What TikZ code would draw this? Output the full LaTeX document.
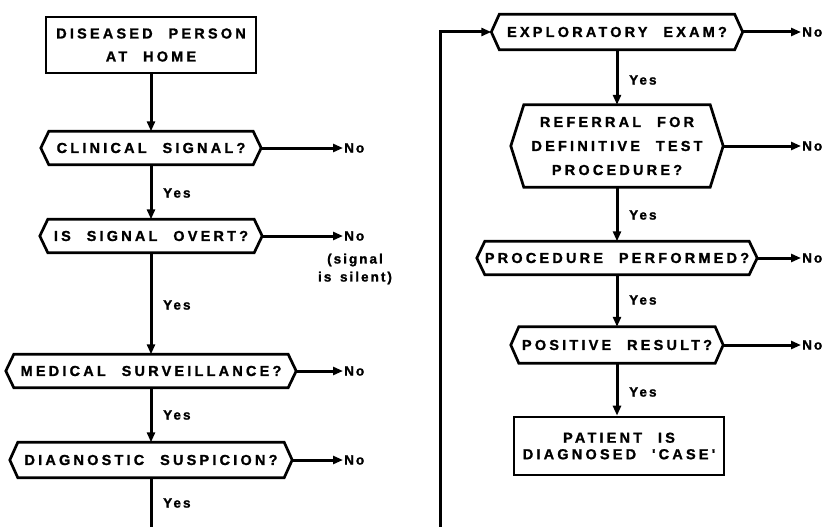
\documentclass[tikz,border=0pt]{standalone}
\usepackage{fontspec}
\setmainfont{Liberation Sans}
\newfontfamily\lblfont{Liberation Sans}[LetterSpace=22, WordSpace=2.2, FakeBold=1.2]
\newfontfamily\smfont{Liberation Sans}[LetterSpace=15, WordSpace=1.5, FakeBold=1.4]
\usetikzlibrary{arrows.meta,calc}
\newcommand\hexa[2]{\draw[outl] ($(#1.north west)+(#2,0)$) -- ($(#1.north east)+(-#2,0)$) -- (#1.east) -- ($(#1.south east)+(-#2,0)$) -- ($(#1.south west)+(#2,0)$) -- (#1.west) -- cycle;}
\tikzset{
  outl/.style={line width=2.7pt, line join=miter},
  txt/.style={font=\lblfont\bfseries\fontsize{14.5}{23}\selectfont, align=center, inner sep=0pt},
  hexnode/.style={txt, shape=rectangle, minimum height=33pt},
  boxnode/.style={txt, draw, line width=2.7pt, shape=rectangle},
  conn/.style={line width=3pt, -{Triangle[length=10pt,width=8pt]}},
  plain/.style={line width=3pt},
  small/.style={font=\smfont\bfseries\fontsize{13.5}{18}\selectfont, inner sep=0pt, align=center},
}
\begin{document}
\begin{tikzpicture}[x=1pt,y=-1pt]
\useasboundingbox (0,0) rectangle (827,527);
% left column
\node[boxnode, minimum width=210pt, minimum height=56pt] (home) at (151,45) {DISEASED PERSON\\AT HOME};
\node[hexnode, minimum width=220pt] (cs) at (151,148) {CLINICAL SIGNAL?};
\node[hexnode, minimum width=222pt] (iso) at (151,236) {IS SIGNAL OVERT?};
\node[hexnode, minimum width=290pt] (med) at (151,371) {MEDICAL SURVEILLANCE?};
\node[hexnode, minimum width=282pt, minimum height=35pt] (diag) at (151,460) {DIAGNOSTIC SUSPICION?};
\hexa{cs}{8}
\hexa{iso}{8}
\hexa{med}{8}
\hexa{diag}{8}
\coordinate (lbot) at (151,527);
\node[small, anchor=west] (y1) at (163,193) {Yes};
\node[small, anchor=west] (y2) at (163,305) {Yes};
\node[small, anchor=west] (y3) at (163,415) {Yes};
\node[small, anchor=west] (y4) at (163,503) {Yes};
\node[small, anchor=west] (n1) at (344,148) {No};
\node[small, anchor=west] (n2) at (344,236) {No};
\node[small] (sil) at (355,269) {(signal\\is silent)};
\node[small, anchor=west] (n3) at (344,371) {No};
\node[small, anchor=west] (n4) at (344,460) {No};
\draw[conn] (home) -- (cs);
\draw[conn] (cs) -- (iso);
\draw[conn] (iso) -- (med);
\draw[conn] (med) -- (diag);
\draw[plain] (diag) -- (lbot);
\draw[conn] (cs.east) -- ([xshift=-1pt]n1.west);
\draw[conn] (iso.east) -- ([xshift=-1pt]n2.west);
\draw[conn] (med.east) -- ([xshift=-1pt]n3.west);
\draw[conn] (diag.east) -- ([xshift=-1pt]n4.west);
% right column
\node[hexnode, minimum width=251pt, minimum height=35pt] (ee) at (617,32) {EXPLORATORY EXAM?};
\node[hexnode, minimum width=212pt, minimum height=82pt, font=\lblfont\bfseries\fontsize{14.5}{24}\selectfont] (ref) at (617,146) {REFERRAL FOR\\DEFINITIVE TEST\\PROCEDURE?};
\node[hexnode, minimum width=280pt] (pp) at (617,258) {PROCEDURE PERFORMED?};
\node[hexnode, minimum width=212pt, minimum height=36pt] (pr) at (617,345) {POSITIVE RESULT?};
\node[boxnode, minimum width=210pt, minimum height=58pt, font=\lblfont\bfseries\fontsize{14.5}{16.5}\selectfont] (pat) at (619,446) {PATIENT IS\\DIAGNOSED 'CASE'};
\hexa{ee}{8}
\hexa{ref}{13}
\hexa{pp}{8}
\hexa{pr}{8}
\node[small, anchor=west] (y5) at (629,80) {Yes};
\node[small, anchor=west] (y6) at (629,215) {Yes};
\node[small, anchor=west] (y7) at (629,300) {Yes};
\node[small, anchor=west] (y8) at (629,392) {Yes};
\node[small, anchor=west] (n5) at (802,32) {No};
\node[small, anchor=west] (n6) at (802,146) {No};
\node[small, anchor=west] (n7) at (802,258) {No};
\node[small, anchor=west] (n8) at (802,345) {No};
\coordinate (rbot) at (440,527);
\draw[conn] (rbot) |- (ee.west);
\draw[conn] (ee) -- (ref);
\draw[conn] (ref) -- (pp);
\draw[conn] (pp) -- (pr);
\draw[conn] (pr) -- (pat.north -| pr.south);
\draw[conn] (ee.east) -- ([xshift=-1pt]n5.west);
\draw[conn] (ref.east) -- ([xshift=-1pt]n6.west);
\draw[conn] (pp.east) -- ([xshift=-1pt]n7.west);
\draw[conn] (pr.east) -- ([xshift=-1pt]n8.west);
\end{tikzpicture}
\end{document}
